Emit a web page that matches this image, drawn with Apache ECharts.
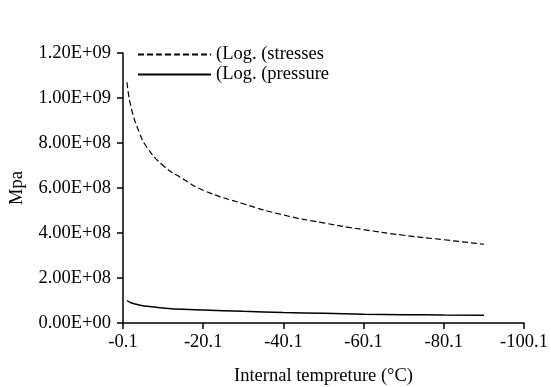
<!DOCTYPE html>
<html>
<head>
    <meta charset="utf-8">
    <title>Stresses and pressure</title>
    <script src="https://cdn.jsdelivr.net/npm/echarts@6/dist/echarts.min.js"></script>
    <style>
        html, body { margin: 0; padding: 0; background: #fff; }
        #container { width: 551px; height: 387px; }
    </style>
</head>
<body>
<div id="container"></div>
<script>
    // temperatures (°C)
    var temps = [-1.1, -2.1, -4.1, -6.1, -10.1, -15.1, -20.1, -30.1, -40.1, -50.1, -60.1, -70.1, -80.1, -90.1];
    var stresses = [1.07e9, 9.6e8, 8.5e8, 7.8e8, 7.0e8, 6.4e8, 5.9e8, 5.3e8, 4.8e8, 4.45e8, 4.15e8, 3.9e8, 3.7e8, 3.5e8];
    var pressure = [1.0e8, 9.0e7, 8.0e7, 7.4e7, 6.7e7, 6.1e7, 5.8e7, 5.2e7, 4.7e7, 4.3e7, 3.9e7, 3.7e7, 3.6e7, 3.5e7];
    var xTicks = [-0.1, -20.1, -40.1, -60.1, -80.1, -100.1];

    var font = 'Liberation Serif';
    var fs = 18.5;

    function pairs(ys) {
        var out = [];
        for (var i = 0; i < temps.length; i++) {
            out.push([temps[i], ys[i]]);
        }
        return out;
    }

    function sci(v) {
        var s = v.toExponential(2).toUpperCase();
        var parts = s.split('E');
        var exp = parseInt(parts[1], 10);
        var sign = exp < 0 ? '-' : '+';
        var e = Math.abs(exp);
        return parts[0] + 'E' + sign + (e < 10 ? '0' + e : e);
    }

    var myChart = echarts.init(document.getElementById('container'));

    var option = {
        animation: false,
        textStyle: { fontFamily: font, color: '#000' },
        grid: { left: 123, right: 27, top: 53, bottom: 64, containLabel: false, outerBoundsMode: 'none' },
        legend: {
            orient: 'vertical',
            left: 132,
            top: 40,
            itemWidth: 73,
            itemHeight: 10,
            itemGap: 1,
            itemStyle: { opacity: 0 },
            textStyle: { fontFamily: font, fontSize: fs, color: '#000' },
            data: ['(Log. (stresses', '(Log. (pressure']
        },
        xAxis: {
            type: 'value',
            min: -100.1,
            max: -0.1,
            inverse: true,
            name: 'Internal tempreture (°C)',
            nameLocation: 'middle',
            nameGap: 44,
            nameTextStyle: { fontFamily: font, fontSize: fs, color: '#000' },
            axisLine: { show: true, onZero: false, lineStyle: { color: '#000', width: 1.5 } },
            axisTick: { show: true, length: 6, customValues: xTicks, lineStyle: { color: '#000', width: 1.5 } },
            axisLabel: {
                customValues: xTicks,
                fontFamily: font, fontSize: fs, color: '#000', margin: 10,
                formatter: function (v) { return v.toFixed(1); }
            },
            splitLine: { show: false }
        },
        yAxis: {
            type: 'value',
            min: 0,
            max: 1.2e9,
            interval: 2e8,
            name: 'Mpa',
            nameLocation: 'middle',
            nameGap: 96,
            nameRotate: 90,
            nameTextStyle: { fontFamily: font, fontSize: fs, color: '#000' },
            axisLine: { show: true, lineStyle: { color: '#000', width: 1.5 } },
            axisTick: { show: true, length: 6, lineStyle: { color: '#000', width: 1.5 } },
            axisLabel: {
                fontFamily: font, fontSize: fs, color: '#000', margin: 12,
                formatter: sci
            },
            splitLine: { show: false }
        },
        series: [{
            name: '(Log. (stresses',
            type: 'line',
            smooth: true,
            symbol: 'none',
            data: pairs(stresses),
            lineStyle: { color: '#000', width: 1.2, type: [6, 3] },
            itemStyle: { color: '#000' }
        }, {
            name: '(Log. (pressure',
            type: 'line',
            smooth: true,
            symbol: 'none',
            data: pairs(pressure),
            lineStyle: { color: '#000', width: 1.5, type: 'solid' },
            itemStyle: { color: '#000' }
        }]
    };

    myChart.setOption(option);
</script>
</body>
</html>
